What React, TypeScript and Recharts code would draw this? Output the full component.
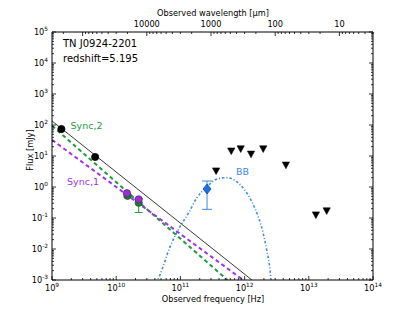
import React from 'react';
import { ComposedChart, XAxis, YAxis, Line, Scatter, ErrorBar } from 'recharts';

// ---------- data (frequency in Hz, flux in mJy) ----------
const radioFreq = [1.4e9, 4.7e9];
const radioFlux = [74, 9.3];

const sync1Freq = [1.47e10, 2.24e10];
const sync1Flux = [0.63, 0.4];

const sync2Freq = [1.5e10, 2.24e10];
const sync2Flux = [0.52, 0.31];
const sync2ErrLow = [0.05, 0.16];
const sync2ErrHigh = [0.05, 0.12];

const dustFreq = [2.6e11];
const dustFlux = [0.86];
const dustErrLow = [0.67];
const dustErrHigh = [0.7];

const limitFreq = [3.6e11, 6.2e11, 8.7e11, 1.26e12, 1.95e12, 4.4e12, 1.29e13, 1.9e13];
const limitFlux = [3.3, 14.5, 17, 11.5, 17, 5.1, 0.126, 0.17];

const totalFitFreq = [1e9, 1.3e12];
const totalFitFlux = [135, 1e-3];
const sync2FitFreq = [1e9, 5.4e11];
const sync2FitFlux = [95, 1e-3];
const sync1FitFreq = [1e9, 9.5e11];
const sync1FitFlux = [33, 1e-3];

const bbFreq = [4.2e10, 4.69e10, 6.89e10, 9.86e10, 1.33e11, 1.79e11, 2.57e11, 3.67e11, 5.26e11, 7.53e11, 1.01e12, 1.29e12, 1.63e12, 1.95e12, 2.21e12, 2.49e12, 2.6e12];
const bbFlux = [8e-4, 1.3e-3, 0.0117, 0.0525, 0.141, 0.437, 1.0, 1.78, 2.0, 1.48, 0.79, 0.34, 0.11, 0.032, 0.0093, 0.0021, 8e-4];

const xMajor = [1e9, 1e10, 1e11, 1e12, 1e13, 1e14];
const yMajor = [1e-3, 1e-2, 1e-1, 1, 10, 100, 1e3, 1e4, 1e5];
const topLabelWl = [10000, 1000, 100, 10];
const C_UM = 2.998e14; // speed of light in micron/s

// ---------- helpers ----------
const zip = (xs: number[], ys: number[]) => xs.map((x, i) => ({ x, y: ys[i] }));
const withMinors = (majors: number[]) => {
  const out: number[] = [];
  majors.forEach((m, i) => {
    out.push(m);
    if (i < majors.length - 1) for (let k = 2; k <= 9; k++) out.push(m * k);
  });
  return out;
};
const xTicks = withMinors(xMajor);
const yTicks = withMinors(yMajor);
const topTicks: number[] = [];
for (let m = 0; m <= 5; m++) {
  for (let k = 1; k <= 9; k++) {
    const wl = k * Math.pow(10, m);
    const nu = C_UM / wl;
    if (nu >= 1e9 && nu <= 1e14) topTicks.push(nu);
  }
}

const isMajor = (v: number) => {
  const e = Math.log10(v);
  return Math.abs(e - Math.round(e)) < 1e-6;
};

const FONT = '"DejaVu Sans", sans-serif';
const TICK_FS = 8.2;

const BottomTick = (props: any) => {
  const { x, y, payload } = props;
  const v = payload.value;
  const major = isMajor(v);
  return (
    <g>
      <line x1={x} x2={x} y1={y} y2={y - (major ? 4 : 2)} stroke="#000" strokeWidth={0.8} />
      {major && (
        <text x={x} y={y + 11} textAnchor="middle" fontSize={TICK_FS} fontFamily={FONT} fill="#000">
          10<tspan dy={-3.6} fontSize={5.8}>{Math.round(Math.log10(v))}</tspan>
        </text>
      )}
    </g>
  );
};

const LeftTick = (props: any) => {
  const { x, y, payload } = props;
  const v = payload.value;
  const major = isMajor(v);
  return (
    <g>
      <line x1={x} x2={x + (major ? 4 : 2)} y1={y} y2={y} stroke="#000" strokeWidth={0.8} />
      {major && (
        <text x={x - 4} y={y + 3} textAnchor="end" fontSize={TICK_FS} fontFamily={FONT} fill="#000">
          10<tspan dy={-3.6} fontSize={5.8}>{Math.round(Math.log10(v))}</tspan>
        </text>
      )}
    </g>
  );
};

const RightTick = (props: any) => {
  const { x, y, payload } = props;
  const major = isMajor(payload.value);
  return <line x1={x} x2={x - (major ? 4 : 2)} y1={y} y2={y} stroke="#000" strokeWidth={0.8} />;
};

const TopTick = (props: any) => {
  const { x, y, payload } = props;
  const wl = C_UM / payload.value;
  const major = isMajor(wl);
  const label = topLabelWl.find((w) => Math.abs(w - wl) / w < 1e-3);
  return (
    <g>
      <line x1={x} x2={x} y1={y} y2={y + (major ? 4 : 2)} stroke="#000" strokeWidth={0.8} />
      {label !== undefined && (
        <text x={x} y={y - 5} textAnchor="middle" fontSize={TICK_FS} fontFamily={FONT} fill="#000">
          {String(label)}
        </text>
      )}
    </g>
  );
};

const Circle = (fill: string, stroke: string, r: number) => (p: any) =>
  p.cx == null ? null : <circle cx={p.cx} cy={p.cy} r={r} fill={fill} stroke={stroke} strokeWidth={0.8} />;

const Diamond = (p: any) =>
  p.cx == null ? null : (
    <polygon
      points={`${p.cx},${p.cy - 5} ${p.cx + 4},${p.cy} ${p.cx},${p.cy + 5} ${p.cx - 4},${p.cy}`}
      fill="#1f6fe0"
      stroke="#0d4fb0"
      strokeWidth={0.8}
    />
  );

const TriDown = (p: any) =>
  p.cx == null ? null : (
    <polygon
      points={`${p.cx - 3.6},${p.cy - 3} ${p.cx + 3.6},${p.cy - 3} ${p.cx},${p.cy + 3.6}`}
      fill="#000"
      stroke="#000"
      strokeWidth={0.6}
    />
  );

const GREEN = '#1f9b3c';
const PURPLE = '#9d34e6';
const BLUE = '#3d8be8';

export default function App() {
  const radio = zip(radioFreq, radioFlux);
  const s1 = zip(sync1Freq, sync1Flux);
  const s2 = sync2Freq.map((x, i) => ({ x, y: sync2Flux[i], err: [sync2ErrLow[i], sync2ErrHigh[i]] }));
  const dust = dustFreq.map((x, i) => ({ x, y: dustFlux[i], err: [dustErrLow[i], dustErrHigh[i]] }));
  const limits = zip(limitFreq, limitFlux);
  const total = zip(totalFitFreq, totalFitFlux);
  const s2fit = zip(sync2FitFreq, sync2FitFlux);
  const s1fit = zip(sync1FitFreq, sync1FitFlux);
  const bb = zip(bbFreq, bbFlux);

  return (
    <div style={{ position: 'absolute', left: 0, top: 0, width: 416, height: 312, background: '#fff' }}>
      <ComposedChart width={416} height={312} margin={{ top: 0, right: 0, bottom: 0, left: 0 }}>
        <XAxis
          xAxisId={0}
          dataKey="x"
          type="number"
          scale="log"
          domain={[1e9, 1e14]}
          allowDataOverflow
          ticks={xTicks}
          interval={0}
          tickSize={0}
          tickMargin={0}
          tick={<BottomTick />}
          height={32}
          axisLine={{ stroke: '#000', strokeWidth: 1 }}
        />
        <XAxis
          xAxisId="top"
          orientation="top"
          dataKey="x"
          type="number"
          scale="log"
          domain={[1e9, 1e14]}
          allowDataOverflow
          ticks={topTicks}
          interval={0}
          tickSize={0}
          tickMargin={0}
          tick={<TopTick />}
          height={32}
          axisLine={{ stroke: '#000', strokeWidth: 1 }}
        />
        <YAxis
          yAxisId={0}
          type="number"
          scale="log"
          domain={[1e-3, 1e5]}
          allowDataOverflow
          ticks={yTicks}
          interval={0}
          tickSize={0}
          tickMargin={0}
          tick={<LeftTick />}
          width={52}
          axisLine={{ stroke: '#000', strokeWidth: 1 }}
        />
        <YAxis
          yAxisId="right"
          orientation="right"
          type="number"
          scale="log"
          domain={[1e-3, 1e5]}
          allowDataOverflow
          ticks={yTicks}
          interval={0}
          tickSize={0}
          tickMargin={0}
          tick={<RightTick />}
          width={43}
          axisLine={{ stroke: '#000', strokeWidth: 1 }}
        />

        <Line data={bb} dataKey="y" type="monotone" stroke={BLUE} strokeWidth={1.6} strokeDasharray="2.5 2 1 2" dot={false} isAnimationActive={false} />
        <Line data={s2fit} dataKey="y" stroke={GREEN} strokeWidth={2} strokeDasharray="4 3" dot={false} isAnimationActive={false} />
        <Line data={s1fit} dataKey="y" stroke={PURPLE} strokeWidth={2} strokeDasharray="4 3" dot={false} isAnimationActive={false} />
        <Line data={total} dataKey="y" stroke="#222" strokeWidth={0.9} dot={false} isAnimationActive={false} />

        <Scatter data={s2} dataKey="y" shape={Circle('#1b7f33', '#0e5a22', 3.6)} isAnimationActive={false}>
          <ErrorBar dataKey="err" direction="y" stroke={GREEN} width={4} strokeWidth={1} isAnimationActive={false} />
        </Scatter>
        <Scatter data={s1} dataKey="y" shape={Circle('#9932cc', '#6a1b9a', 3.6)} isAnimationActive={false} />
        <Scatter data={radio} dataKey="y" shape={Circle('#000', '#000', 3.6)} isAnimationActive={false} />
        <Scatter data={dust} dataKey="y" shape={Diamond} isAnimationActive={false}>
          <ErrorBar dataKey="err" direction="y" stroke={BLUE} width={5} strokeWidth={1} isAnimationActive={false} />
        </Scatter>
        <Scatter data={limits} dataKey="y" shape={TriDown} isAnimationActive={false} />
      </ComposedChart>

      <svg width={416} height={312} style={{ position: 'absolute', left: 0, top: 0, pointerEvents: 'none' }} fontFamily={FONT}>
        <text x={213} y={15.5} textAnchor="middle" fontSize={TICK_FS} fill="#000">Observed wavelength [μm]</text>
        <text x={213} y={302} textAnchor="middle" fontSize={TICK_FS} fill="#000">Observed frequency [Hz]</text>
        <text transform="translate(33,150) rotate(-90)" textAnchor="middle" fontSize={TICK_FS} fill="#000">Flux [mJy]</text>
        <text x={63} y={47} fontSize={10} fill="#000">TN J0924-2201</text>
        <text x={63} y={62} fontSize={10} fill="#000">redshift=5.195</text>
        <text x={70.5} y={129} fontSize={9.5} fill={GREEN}>Sync,2</text>
        <text x={67} y={185} fontSize={9.5} fill={PURPLE}>Sync,1</text>
        <text x={236} y={175} fontSize={9.5} fill={BLUE}>BB</text>
      </svg>
    </div>
  );
}
